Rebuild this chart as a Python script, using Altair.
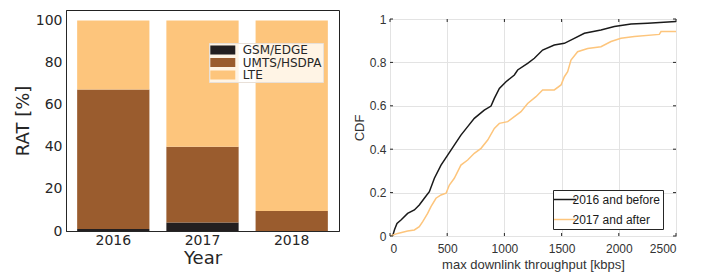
import altair as alt
import pandas as pd

# ---- left panel data ----
years = ["2016", "2017", "2018"]
rats = ["GSM/EDGE", "UMTS/HSDPA", "LTE"]
gsm = [1.0, 4.0, 0.0]
umts = [66.2, 36.0, 9.5]
lte = [32.8, 60.0, 90.5]
rat_colors = ["#231f20", "#9a5c2e", "#fdc57c"]

# ---- right panel data (CDF) ----
x_2016 = [23, 40, 61, 96, 154, 213, 256, 300, 344, 388, 446, 504, 562, 620, 679, 737, 824, 883, 912, 956,
          1014, 1087, 1116, 1203, 1262, 1334, 1436, 1524, 1611, 1699, 1844, 1961, 2107, 2252, 2500]
y_2016 = [0.0, 0.03, 0.058, 0.074, 0.104, 0.12, 0.143, 0.174, 0.204, 0.266, 0.327, 0.373, 0.419, 0.465, 0.504,
          0.542, 0.58, 0.599, 0.634, 0.68, 0.711, 0.742, 0.765, 0.796, 0.819, 0.857, 0.88, 0.888, 0.911, 0.934,
          0.949, 0.965, 0.977, 0.98, 0.988]
x_2017 = [0, 67, 154, 213, 256, 286, 329, 358, 402, 446, 490, 519, 562, 620, 679, 737, 796, 854, 912, 956,
          1029, 1087, 1145, 1203, 1276, 1334, 1436, 1495, 1524, 1553, 1582, 1640, 1728, 1844, 1932, 2019, 2136,
          2354, 2369, 2500]
y_2017 = [0.0, 0.012, 0.023, 0.028, 0.043, 0.066, 0.104, 0.135, 0.174, 0.189, 0.197, 0.235, 0.266, 0.327, 0.35,
          0.381, 0.404, 0.442, 0.496, 0.519, 0.527, 0.55, 0.573, 0.611, 0.642, 0.673, 0.673, 0.696, 0.734, 0.757,
          0.811, 0.849, 0.864, 0.872, 0.896, 0.911, 0.919, 0.929, 0.942, 0.942]
series = ["2016 and before", "2017 and after"]
series_colors = ["#1a1a1a", "#fdc57c"]
x_ticks = [0, 500, 1000, 1500, 2000, 2500]
y_ticks = [0, 0.2, 0.4, 0.6, 0.8, 1.0]

# ---- build tables ----
rows = []
for i, y in enumerate(years):
    for j, (r, vals) in enumerate(zip(rats, [gsm, umts, lte])):
        rows.append({"year": y, "rat": r, "idx": j, "value": vals[i]})
bars_df = pd.DataFrame(rows)

cdf_rows = []
for s, xs, ys in [(series[0], x_2016, y_2016), (series[1], x_2017, y_2017)]:
    for k, (a, b) in enumerate(zip(xs, ys)):
        cdf_rows.append({"series": s, "x": a, "y": b, "k": k})
cdf_df = pd.DataFrame(cdf_rows)
xt_df = pd.DataFrame({"t": x_ticks})
yt_df = pd.DataFrame({"t": y_ticks})

DJ = "DejaVu Sans"
LS = "Liberation Sans"
TXT = "#262626"

LW, LH = 273, 221
left = alt.Chart(bars_df).mark_bar().encode(
    x=alt.X("year:N", sort=years,
            scale=alt.Scale(paddingInner=0.19, paddingOuter=0.125),
            axis=alt.Axis(title="Year", labelAngle=0, ticks=False, labelFont=DJ, labelFontSize=14,
                          labelColor=TXT, titleFont=DJ, titleFontSize=18, titleFontWeight="normal",
                          titleColor=TXT, labelPadding=2, titlePadding=2, domainColor=TXT)),
    y=alt.Y("value:Q", stack="zero",
            scale=alt.Scale(domain=[0, 105], nice=False),
            axis=alt.Axis(title="RAT [%]", values=[0, 20, 40, 60, 80, 100], grid=False, ticks=False,
                          labelFont=DJ, labelFontSize=14, labelColor=TXT, labelPadding=4,
                          titleFont=DJ, titleFontSize=18, titleFontWeight="normal", titleColor=TXT,
                          titlePadding=3, domainColor=TXT)),
    color=alt.Color("rat:N", sort=rats, title=None,
                    scale=alt.Scale(domain=rats, range=rat_colors),
                    legend=alt.Legend(orient="none", legendX=143, legendY=33,
                                      symbolType="M-2.27,-0.82L2.27,-0.82L2.27,0.82L-2.27,0.82Z",
                                      symbolSize=121, symbolStrokeWidth=0, symbolOpacity=1,
                                      symbolOffset=6.8, labelOffset=14,
                                      labelFont=DJ, labelFontSize=12, labelColor=TXT,
                                      rowPadding=0.5, padding=1,
                                      fillColor="rgba(255,255,255,0.8)", strokeColor="#e8e0d8")),
    order=alt.Order("idx:Q", sort="ascending"),
).properties(width=LW, height=LH, view=alt.ViewBackground(stroke="#222222", strokeWidth=1))

RW, RH = 286, 217
base = alt.Chart(cdf_df)
lines = base.mark_line(strokeWidth=1.5, clip=True).encode(
    x=alt.X("x:Q", scale=alt.Scale(domain=[0, 2500], nice=False),
            axis=alt.Axis(title="max downlink throughput [kbps]", values=x_ticks, format="d", tickSize=0,
                          grid=True, gridColor="#e3e3e3", domain=False,
                          labelFont=LS, labelFontSize=12, labelColor="#333333", labelPadding=7,
                          titleFont=LS, titleFontSize=13, titleFontWeight="normal",
                          titleColor="#333333", titlePadding=4)),
    y=alt.Y("y:Q", scale=alt.Scale(domain=[0, 1], nice=False),
            axis=alt.Axis(title="CDF", values=y_ticks, format="~g", tickSize=0,
                          grid=True, gridColor="#e3e3e3", domain=False,
                          labelFont=LS, labelFontSize=12, labelColor="#333333", labelPadding=4,
                          titleFont=LS, titleFontSize=13, titleFontWeight="normal",
                          titleColor="#333333", titlePadding=3)),
    color=alt.Color("series:N", title=None,
                    scale=alt.Scale(domain=series, range=series_colors),
                    legend=alt.Legend(orient="none", legendX=163, legendY=180,
                                      symbolType="M-2,0L2,0", symbolSize=121, symbolStrokeWidth=1.5,
                                      symbolOffset=2.5, labelOffset=1,
                                      labelFont=LS, labelFontSize=12, labelColor="#1a1a1a",
                                      rowPadding=7, padding=3,
                                      fillColor="white", strokeColor="#262626")),
    order=alt.Order("k:Q"),
)
tick_col = "#262626"
bt = alt.Chart(xt_df).mark_rule(color=tick_col, strokeWidth=1).encode(
    x=alt.X("t:Q"), y=alt.value(RH), y2=alt.value(RH - 3))
tt = alt.Chart(xt_df).mark_rule(color=tick_col, strokeWidth=1).encode(
    x=alt.X("t:Q"), y=alt.value(0), y2=alt.value(3))
lt = alt.Chart(yt_df).mark_rule(color=tick_col, strokeWidth=1).encode(
    y=alt.Y("t:Q"), x=alt.value(0), x2=alt.value(3))
rt = alt.Chart(yt_df).mark_rule(color=tick_col, strokeWidth=1).encode(
    y=alt.Y("t:Q"), x=alt.value(RW), x2=alt.value(RW - 3))

right = alt.layer(lines, bt, tt, lt, rt).properties(
    width=RW, height=RH, view=alt.ViewBackground(stroke="#262626", strokeWidth=1))

spacer = alt.Chart(pd.DataFrame({"a": [0]})).mark_rule(strokeOpacity=0).encode(
    x=alt.value(0), x2=alt.value(1), y=alt.value(0)
).properties(width=RW, height=1.5, view=alt.ViewBackground(stroke="transparent"))

right_col = alt.vconcat(spacer, right, spacing=0)

chart = alt.hconcat(left, right_col, spacing=12).resolve_scale(color="independent").configure(
    padding={"left": 5, "top": 1, "right": 5, "bottom": 0}
)

chart.save("out.html", embed_options={"renderer": "svg", "actions": False})
